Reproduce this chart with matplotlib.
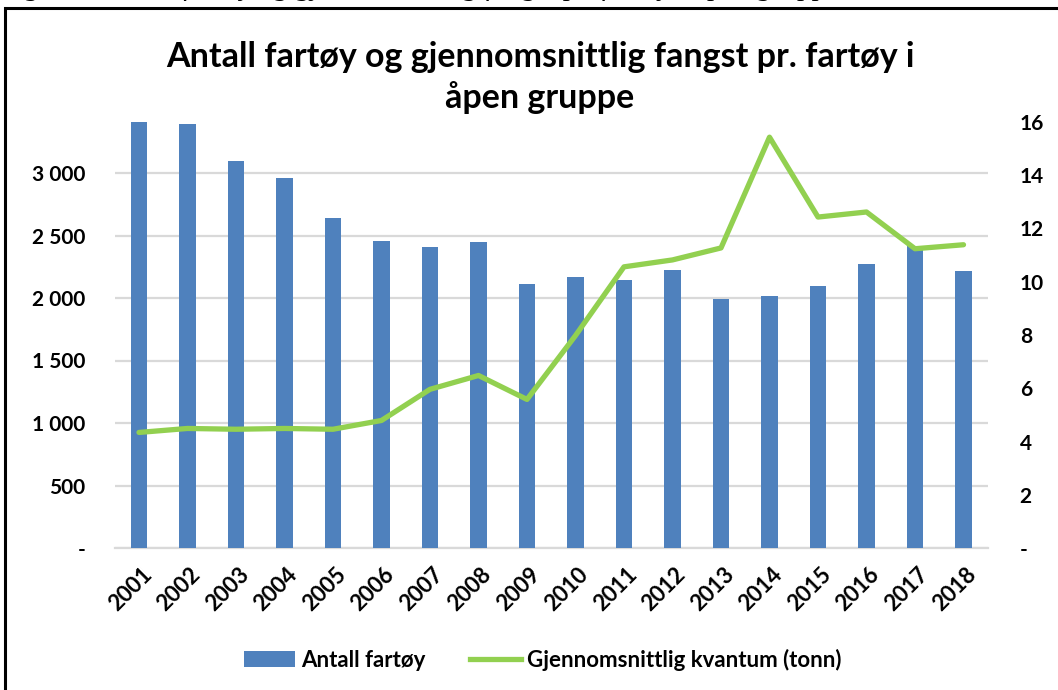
import numpy as np
import matplotlib.pyplot as plt
import matplotlib.transforms as mtransforms
from matplotlib.patches import Rectangle
from matplotlib.lines import Line2D
from matplotlib.patches import Patch

plt.rcParams['font.family'] = ['Lato', 'DejaVu Sans']

# data
years = ['2001', '2002', '2003', '2004', '2005', '2006', '2007', '2008', '2009',
         '2010', '2011', '2012', '2013', '2014', '2015', '2016', '2017', '2018']
antall = [3405, 3390, 3100, 2960, 2640, 2455, 2410, 2450, 2112,
          2168, 2144, 2224, 1992, 2016, 2096, 2272, 2416, 2216]
kvantum = [4.34, 4.49, 4.46, 4.49, 4.46, 4.79, 5.96, 6.48, 5.58,
           7.98, 10.56, 10.82, 11.27, 15.43, 12.43, 12.62, 11.24, 11.39]
left_ticks = [0, 500, 1000, 1500, 2000, 2500, 3000]
right_ticks = [0, 2, 4, 6, 8, 10, 12, 14, 16]

blue = '#4F81BD'
green = '#92D050'
grid = '#D9D9D9'

fig = plt.figure(figsize=(10.58, 6.9), dpi=100)

# frame around the figure (cut at right/bottom)
fig.patches.append(Rectangle((5 / 1058, -0.1), 1.2, 1 - 8 / 690 + 0.1,
                             transform=fig.transFigure, fill=False,
                             edgecolor='black', linewidth=2.2))
# caption from the page above, mostly cut off
fig.text(0.0, 1.0 + 5 / 690,
         'Figur 8: Antall fartøy og gjennomsnittlig fangst pr. fartøy i åpen gruppe 2001 - 2018',
         family='Liberation Serif', style='italic', fontsize=21, va='baseline', ha='left')

ax = fig.add_axes([114.75 / 1058, 1 - 548 / 690, 873 / 1058, 426 / 690])
x = np.arange(len(years))
ax.bar(x, antall, width=0.35, color=blue, zorder=3)
ax.set_xlim(-0.5, len(years) - 0.5)
ax.set_ylim(0, 3408)
ax.set_yticks(left_ticks)
ax.set_yticklabels(['-' if v == 0 else f'{v:,}'.replace(',', ' ') for v in left_ticks],
                   fontsize=15, fontweight='bold')
ax.yaxis.grid(True, color=grid, linewidth=1.6, zorder=0)
ax.tick_params(axis='y', length=0, pad=21)
ax.tick_params(axis='x', length=0, pad=4)
for s in ['top', 'right', 'left']:
    ax.spines[s].set_visible(False)
ax.spines['bottom'].set_color(grid)
ax.spines['bottom'].set_linewidth(1.6)

ax.set_xticks(x)
ax.set_xticklabels(years, fontsize=16, fontweight='bold', rotation=45,
                   ha='right', va='top', rotation_mode='anchor')
offset = mtransforms.ScaledTranslation(2 / 100, -10 / 100, fig.dpi_scale_trans)
for lab in ax.get_xticklabels():
    lab.set_transform(lab.get_transform() + offset)

ax2 = ax.twinx()
ax2.plot(x, kvantum, color=green, linewidth=3.8, solid_capstyle='round', zorder=4)
ax2.set_ylim(0, 16)
ax2.set_yticks(right_ticks)
ax2.set_yticklabels(['-' if v == 0 else str(v) for v in right_ticks],
                    fontsize=15, fontweight='bold')
ax2.tick_params(axis='y', length=0, pad=23)
for s in ['top', 'right', 'left', 'bottom']:
    ax2.spines[s].set_visible(False)

fig.text(540 / 1058, 1 - 57 / 690, 'Antall fartøy og gjennomsnittlig fangst pr. fartøy i',
         ha='center', va='center', fontsize=24.5, fontweight='bold')
fig.text(540 / 1058, 1 - 98 / 690, 'åpen gruppe',
         ha='center', va='center', fontsize=24.5, fontweight='bold')

handles = [Patch(facecolor=blue, edgecolor='none'),
           Line2D([0], [0], color=green, linewidth=3.8)]
fig.legend(handles, ['Antall fartøy', 'Gjennomsnittlig kvantum (tonn)'],
           loc='center', bbox_to_anchor=(543 / 1058, 1 - 660 / 690), ncol=2,
           frameon=False, prop={'size': 16, 'weight': 'bold'},
           handlelength=2.3, handletextpad=0.27, columnspacing=2.0)

fig.savefig('out.png', dpi=100)
